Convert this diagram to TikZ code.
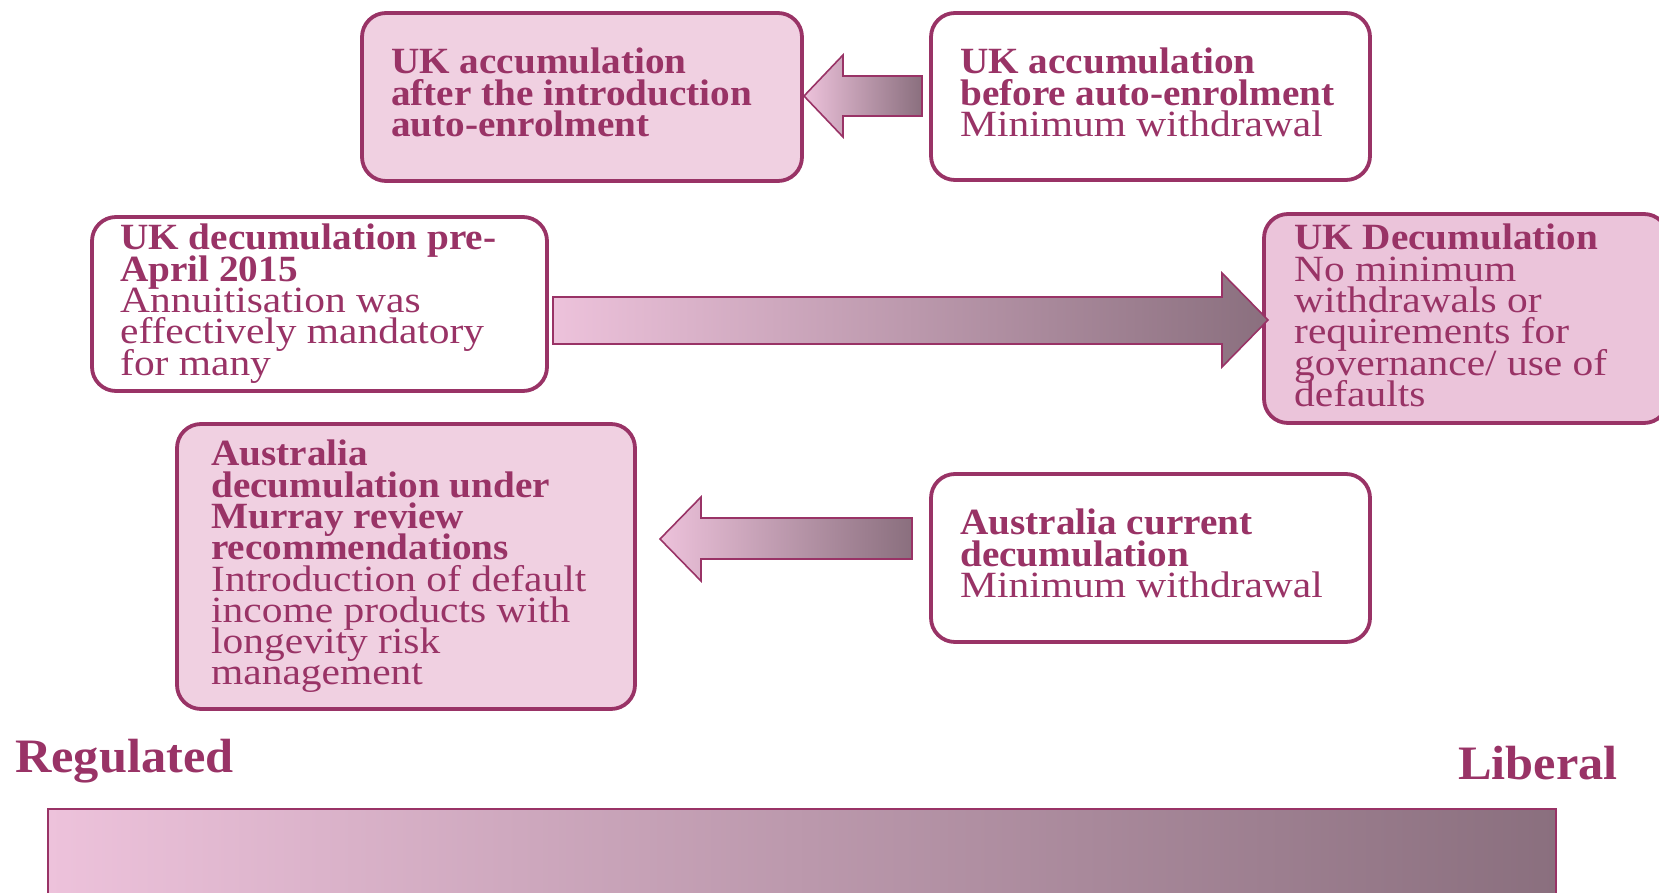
\documentclass[tikz,border=0pt]{standalone}
\usepackage{fontspec}
\setmainfont{Liberation Serif}[FakeStretch=1.12, BoldFeatures={FakeStretch=1.06}]
\newfontfamily\axisfont{Liberation Serif}[FakeStretch=1.05]
\newcommand\tightlines{\lineskiplimit=-100pt\relax\lineskip=0pt\relax}
\definecolor{plum}{HTML}{993366}
\definecolor{boxfill}{HTML}{F0D0E1}
\definecolor{boxfillB}{HTML}{EBC4DA}
\definecolor{gradL}{HTML}{EDC2DB}
\definecolor{gradR}{HTML}{8A6F7E}
\tikzset{
  card/.style={draw=plum, line width=3.8pt, rounded corners=24pt, fill=white},
  cardfill/.style={card, fill=boxfill},
  txt/.style={anchor=north west, inner sep=0pt, align=left, text=plum,
    font=\fontsize{37}{31.3}\selectfont\tightlines},
  blockarrow/.style={draw=plum, line width=1.6pt, left color=gradL, right color=gradR},
  axislabel/.style={anchor=base west, inner sep=0pt, text=plum,
    font=\fontsize{48}{50}\selectfont\axisfont\bfseries},
}
\begin{document}
\begin{tikzpicture}[x=1pt,y=-1pt]
\useasboundingbox (0,0) rectangle (1659,893);
% boxes
\draw[cardfill] (362,13) rectangle (802,181);
\draw[card] (931,13) rectangle (1370,180);
\draw[card] (92,217) rectangle (547,391);
\draw[cardfill, fill=boxfillB] (1264,214) rectangle (1668,423);
\draw[cardfill] (177,424) rectangle (635,709);
\draw[card] (931,474) rectangle (1370,642);
% texts
\node[txt] (t1) at (391,48) {\textbf{UK accumulation}\\\textbf{after the introduction}\\\textbf{auto-enrolment}};
\node[txt] (t2) at (960,48) {\textbf{UK accumulation}\\\textbf{before auto-enrolment}\\Minimum withdrawal};
\node[txt] (t3) at (120,224) {\textbf{UK decumulation pre-}\\\textbf{April 2015}\\Annuitisation was\\effectively mandatory\\for many};
\node[txt] (t4) at (1294,224) {\textbf{UK Decumulation}\\No minimum\\withdrawals or\\requirements for\\governance/ use of\\defaults};
\node[txt] (t5) at (211,440) {\textbf{Australia}\\\textbf{decumulation under}\\\textbf{Murray review}\\\textbf{recommendations}\\Introduction of default\\income products with\\longevity risk\\management};
\node[txt] (t6) at (960,509) {\textbf{Australia current}\\\textbf{decumulation}\\Minimum withdrawal};
% arrows
\path[blockarrow] (804,96) -- (843,55) -- (843,76) -- (922,76) -- (922,116) -- (843,116) -- (843,137) -- cycle;
\path[blockarrow] (553,297) -- (1222,297) -- (1222,273) -- (1268,320) -- (1222,367) -- (1222,344) -- (553,344) -- cycle;
\path[blockarrow] (660,539) -- (701,497) -- (701,518) -- (912,518) -- (912,559) -- (701,559) -- (701,581) -- cycle;
% axis
\node[axislabel] (reg) at (15,772) {Regulated};
\node[axislabel] (lib) at (1458,779) {Liberal};
\path[blockarrow, line width=1.2pt] (48,809) rectangle (1556,905);
\end{tikzpicture}
\end{document}
